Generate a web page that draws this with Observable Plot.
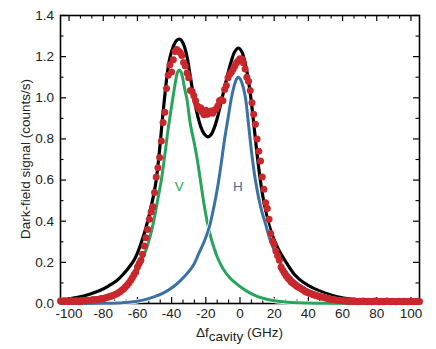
<!DOCTYPE html>
<html><head><meta charset="utf-8">
<script src="https://cdn.jsdelivr.net/npm/d3@7"></script>
<script src="https://cdn.jsdelivr.net/npm/@observablehq/plot@0.6"></script>
<style>body{margin:0;background:#fff}#chart{width:436px;height:349px}</style>
</head><body><div id="chart"></div>
<script>
// measured dark-field signal (red dots)
const dataX = [-105,-104,-103,-102,-101,-100,-99,-98,-97,-96,-95,-94,-93,-92,-91,-90,-89,-88,-87,-86,
-85,-84,-83,-82,-81,-80,-79,-78,-77,-76,-75,-74,-73,-72,-71,-70,-69,-68,-67,-66,
-65,-64,-63,-62,-61,-60,-59,-58,-57,-56,-55,-54,-53,-52,-51,-50,-49,-48,-47,-46,
-45,-44,-43,-42,-41,-40,-39,-38,-37,-36,-35,-34,-33,-32,-31,-30,-29,-28,-27,-26,
-25,-24,-23,-22,-21,-20,-19,-18,-17,-16,-15,-14,-13,-12,-11,-10,-9,-8,-7,-6,
-5,-4,-3,-2,-1,0,1,2,3,4,5,6,7,8,9,10,11,12,13,14,
15,16,17,18,19,20,21,22,23,24,25,26,27,28,29,30,31,32,33,34,
35,36,37,38,39,40,41,42,43,44,45,46,47,48,49,50,51,52,53,54,
55,56,57,58,59,60,61,62,63,64,65,66,67,68,69,70,71,72,73,74,
75,76,77,78,79,80,81,82,83,84,85,86,87,88,89,90,91,92,93,94,
95,96,97,98,99,100,101,102,103,104,105];
const dataY = [0.012,0.010,0.013,0.011,0.009,0.012,0.014,0.010,0.011,0.013,0.012,0.009,0.014,0.012,0.015,0.013,0.016,0.014,0.017,0.018,
0.018,0.020,0.019,0.022,0.024,0.023,0.027,0.029,0.031,0.035,0.037,0.040,0.044,0.048,0.054,0.058,0.066,0.072,0.082,0.090,
0.100,0.112,0.125,0.140,0.152,0.178,0.195,0.210,0.240,0.280,0.320,0.360,0.410,0.445,0.470,0.540,0.615,0.660,0.710,0.790,
0.880,0.930,1.045,1.110,1.160,1.125,1.185,1.225,1.235,1.228,1.220,1.205,1.172,1.155,1.120,1.098,1.035,1.030,1.010,0.985,
0.960,0.945,0.952,0.930,0.918,0.940,0.920,0.930,0.936,0.925,0.940,0.945,0.960,0.985,0.990,0.985,1.040,1.060,1.098,1.115,
1.125,1.140,1.155,1.170,1.180,1.190,1.188,1.170,1.140,1.100,1.080,1.035,0.976,0.920,0.871,0.800,0.740,0.693,0.615,0.555,
0.490,0.462,0.410,0.340,0.305,0.288,0.255,0.232,0.210,0.178,0.162,0.148,0.135,0.124,0.115,0.105,0.098,0.092,0.085,0.080,
0.076,0.070,0.066,0.060,0.055,0.052,0.049,0.046,0.042,0.040,0.038,0.035,0.033,0.031,0.029,0.027,0.025,0.023,0.021,0.020,
0.019,0.017,0.016,0.015,0.014,0.013,0.012,0.013,0.011,0.012,0.010,0.011,0.012,0.010,0.009,0.011,0.010,0.012,0.010,0.009,
0.011,0.010,0.009,0.011,0.012,0.010,0.009,0.010,0.011,0.009,0.010,0.012,0.010,0.009,0.011,0.010,0.009,0.010,0.011,0.010,
0.009,0.011,0.010,0.009,0.010,0.011,0.010,0.009,0.010,0.011,0.010];

// total fit (black)
const fitX = [-105,-95,-88,-82,-77,-72,-68,-65,-62,-60,-58,-56,-54,-52,-50,-49,-48,-47,-46,-45,-44,-42.5,-41,-39,-37,-35,-33,-31,-29,-27,-25,-23,-21,-19,-17,-15,-13,-11,-9,-7,-5,-3,-1,1,3.5,5,6.5,8.5,10.5,12.5,14.5,16.5,19,21,24,27,32,37,43.5,50,57,65,75,90,105];
const fitY = [0.017,0.03,0.045,0.063,0.085,0.112,0.145,0.175,0.21,0.245,0.29,0.34,0.40,0.47,0.55,0.6,0.67,0.75,0.84,0.93,1.01,1.12,1.195,1.25,1.28,1.285,1.26,1.2,1.1,1.0,0.92,0.86,0.825,0.81,0.82,0.855,0.91,0.98,1.05,1.12,1.18,1.225,1.242,1.225,1.15,1.08,0.99,0.84,0.69,0.565,0.47,0.395,0.33,0.29,0.24,0.2,0.14,0.103,0.072,0.05,0.033,0.022,0.015,0.01,0.008];

// V component (green)
const vX = [-105,-95,-88,-82,-77,-72,-68,-64,-61,-58,-55,-52,-50,-48,-46,-44,-42,-40,-38.5,-37.5,-36.5,-35.5,-34.5,-33.5,-32.5,-31,-29,-27,-25,-23,-21,-19,-17,-15,-13,-10,-6,-2,3,8,14,20,28,38,50,70,105];
const vY = [0.002,0.006,0.011,0.018,0.028,0.045,0.07,0.1,0.14,0.2,0.26,0.345,0.42,0.51,0.6,0.72,0.85,0.96,1.04,1.09,1.125,1.135,1.125,1.095,1.05,0.99,0.87,0.79,0.70,0.59,0.48,0.39,0.32,0.265,0.22,0.17,0.125,0.095,0.065,0.042,0.024,0.013,0.006,0.002,0.001,0,0];

// H component (blue)
const hX = [-105,-80,-70,-65,-60,-55,-50,-45,-40,-35,-30,-27,-24,-21,-18,-15,-13,-11,-9,-7,-5,-3,-2,-1,0,1,3,5,7,9,11,13,15,18,22,26,31,37,44,52,60,70,85,105];
const hY = [0,0.001,0.003,0.006,0.011,0.02,0.033,0.05,0.075,0.11,0.155,0.19,0.245,0.30,0.37,0.48,0.57,0.68,0.8,0.9,1.0,1.07,1.092,1.10,1.093,1.075,1.01,0.87,0.72,0.6,0.51,0.44,0.385,0.3,0.225,0.165,0.115,0.078,0.05,0.028,0.015,0.007,0.002,0];

// ticks
const xMajor = [-100,-80,-60,-40,-20,0,20,40,60,80,100];
const xMinor = [-93.33,-86.67,-73.33,-66.67,-53.33,-46.67,-33.33,-26.67,-13.33,-6.67,6.67,13.33,26.67,33.33,46.67,53.33,66.67,73.33,86.67,93.33];
const yMajor = [0,0.2,0.4,0.6,0.8,1.0,1.2,1.4];
const yMinor = [0.1,0.3,0.5,0.7,0.9,1.1,1.3];

// component labels
const compText = ["V","H"];
const compX = [-35.5,-1.3];
const compY = [0.57,0.57];
const compColor = ["#27a559","#3b72a6"];

const FONT = "Liberation Sans, Arial, Helvetica, sans-serif";
const FS = 13.5;
const W = 436, H = 349, ML = 60, MR = 17, MT = 15, MB = 46;
const FH = H - MT - MB, FW = W - ML - MR;

const chart = Plot.plot({
  width: W, height: H,
  marginLeft: ML, marginRight: MR, marginTop: MT, marginBottom: MB,
  style: {fontFamily: FONT, background: "#fff"},
  x: {domain: [-105, 105], axis: null},
  y: {domain: [0, 1.4], axis: null},
  marks: [
    Plot.frame({stroke: "#000", strokeWidth: 1.6}),
    Plot.tickX(xMajor, {x: d => d, insetTop: FH - 6, stroke: "#000", strokeWidth: 1.2}),
    Plot.tickX(xMajor, {x: d => d, insetBottom: FH - 6, stroke: "#000", strokeWidth: 1.2}),
    Plot.tickX(xMinor, {x: d => d, insetTop: FH - 3.5, stroke: "#000", strokeWidth: 1.1}),
    Plot.tickX(xMinor, {x: d => d, insetBottom: FH - 3.5, stroke: "#000", strokeWidth: 1.1}),
    Plot.tickY(yMajor, {y: d => d, insetRight: FW - 6, stroke: "#000", strokeWidth: 1.2}),
    Plot.tickY(yMajor, {y: d => d, insetLeft: FW - 6, stroke: "#000", strokeWidth: 1.2}),
    Plot.tickY(yMinor, {y: d => d, insetRight: FW - 3.5, stroke: "#000", strokeWidth: 1.1}),
    Plot.tickY(yMinor, {y: d => d, insetLeft: FW - 3.5, stroke: "#000", strokeWidth: 1.1}),
    Plot.text(xMajor, {x: d => d, frameAnchor: "bottom", dy: 14, text: d => String(d), fontSize: FS, fill: "#222"}),
    Plot.text(yMajor, {y: d => d, frameAnchor: "left", dx: -6.5, textAnchor: "end", text: d => d.toFixed(1), fontSize: FS, fill: "#222"}),
    Plot.line(fitX, {x: fitX, y: fitY, curve: "catmull-rom", stroke: "#000", strokeWidth: 3.2}),
    Plot.line(vX, {x: vX, y: vY, curve: "catmull-rom", stroke: "#fff", strokeWidth: 4.6}),
    Plot.line(vX, {x: vX, y: vY, curve: "catmull-rom", stroke: compColor[0], strokeWidth: 3}),
    Plot.line(hX, {x: hX, y: hY, curve: "catmull-rom", stroke: "#fff", strokeWidth: 4.6}),
    Plot.line(hX, {x: hX, y: hY, curve: "catmull-rom", stroke: compColor[1], strokeWidth: 3}),
    Plot.dot(dataX, {x: dataX, y: dataY, r: 3.5, fill: "#c8282c", stroke: "none"}),
    Plot.text(compText, {x: compX, y: compY, text: compText, fill: compColor, fontSize: FS})
  ]
});
document.getElementById("chart").appendChild(chart);

const svg = d3.select(chart);
// y title
svg.append("text")
  .attr("transform", `translate(26,${MT + FH / 2}) rotate(-90)`)
  .attr("text-anchor", "middle").attr("dominant-baseline", "middle")
  .attr("font-family", FONT).attr("font-size", FS).attr("fill", "#222")
  .text("Dark-field signal (counts/s)");
// x title with subscript
const t = svg.append("text")
  .attr("x", ML + FW / 2).attr("y", 337)
  .attr("text-anchor", "middle")
  .attr("font-family", FONT).attr("font-size", FS).attr("fill", "#222");
t.append("tspan").text("Δf");
t.append("tspan").attr("dy", 4).text("cavity");
t.append("tspan").attr("dy", -4).text(" (GHz)");
</script>
</body></html>
